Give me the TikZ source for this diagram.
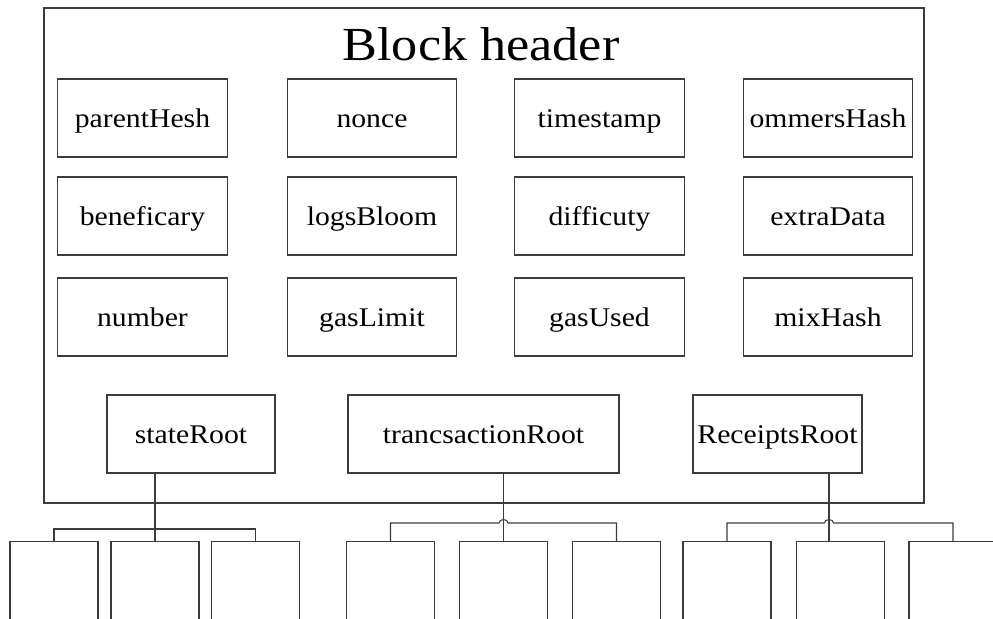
\documentclass[tikz,border=0pt]{standalone}
\usepackage{fontspec}
\setmainfont{Liberation Serif}[FakeStretch=1.1]
\usetikzlibrary{calc}
\definecolor{edgegray}{RGB}{60,60,60}

\begin{document}
\begin{tikzpicture}[x=0.75pt,y=0.75pt,
  field/.style={draw=edgegray,line width=0.8pt,minimum width=127.1pt,minimum height=58.5pt,inner sep=0pt,text height=17pt,text depth=3.5pt,font=\fontsize{20.25}{24}\selectfont},
  leaf/.style={draw=edgegray,line width=0.8pt,minimum width=66pt,minimum height=90pt,inner sep=0pt,anchor=north},
  link/.style={edgegray,line width=0.8pt}]
\useasboundingbox (0,0) rectangle (993,-618);
\clip (0,0) rectangle (993,-618);
\node[draw=edgegray,line width=0.8pt,minimum width=660pt,minimum height=371.25pt,inner sep=0pt] (header) at (484,-255.5) {};
\node[font=\fontsize{35.6}{40}\selectfont,anchor=base] (title) at (481,-60) {Block header};
\node[field] (parentHesh) at (142.5,-118) {parentHesh};
\node[field] (nonce) at (372,-118) {nonce};
\node[field] (timestamp) at (599.5,-118) {timestamp};
\node[field] (ommersHash) at (828,-118) {ommersHash};
\node[field] (beneficary) at (142.5,-216) {beneficary};
\node[field] (logsBloom) at (372,-216) {logsBloom};
\node[field] (difficuty) at (599.5,-216) {difficuty};
\node[field] (extraData) at (828,-216) {extraData};
\node[field] (number) at (142.5,-317) {number};
\node[field] (gasLimit) at (372,-317) {gasLimit};
\node[field] (gasUsed) at (599.5,-317) {gasUsed};
\node[field] (mixHash) at (828,-317) {mixHash};
\node[field,minimum width=126pt] (stateRoot) at (191,-434) {stateRoot};
\node[field,minimum width=203.25pt] (trancsactionRoot) at (483.5,-434) {trancsactionRoot};
\node[field,minimum width=126.75pt] (ReceiptsRoot) at (777.5,-434) {ReceiptsRoot};
% subtrees
\node[leaf] (state1) at (54,-541) {};
\node[leaf] (state2) at (155,-541) {};
\node[leaf] (state3) at (255.5,-541) {};
\node[leaf] (txn1) at (390.5,-541) {};
\node[leaf] (txn2) at (503.5,-541) {};
\node[leaf] (txn3) at (616.5,-541) {};
\node[leaf] (rcpt1) at (727,-541) {};
\node[leaf] (rcpt2) at (840.5,-541) {};
\node[leaf] (rcpt3) at (953,-541) {};
\draw[link] (stateRoot.south -| state2.north) -- (state2.north);
\draw[link] (state1.north) -- ++(0,12) -| (state3.north);
\draw[link] (trancsactionRoot.south -| txn2.north) -- (txn2.north);
\draw[link] (txn1.north) -- ++(0,18) -- ($(txn2.north)+(-4.5,18)$) arc[start angle=180,end angle=0,x radius=4.5,y radius=3.5] -| (txn3.north);
\draw[link] ($(ReceiptsRoot.south)+(51.5,0)$) -- ($(rcpt2.north)+(-11.5,0)$);
\draw[link] (rcpt1.north) -- ++(0,18) -- ($(rcpt2.north)+(-16,18)$) arc[start angle=180,end angle=0,x radius=4.5,y radius=3.5] -| (rcpt3.north);
\end{tikzpicture}
\end{document}
